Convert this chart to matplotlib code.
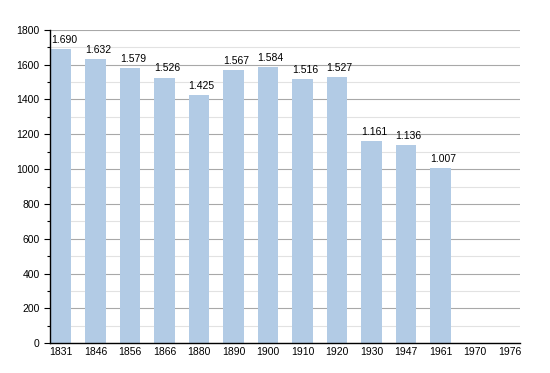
import matplotlib.pyplot as plt
import numpy as np

plt.rcParams["font.family"] = ["Liberation Sans", "DejaVu Sans"]

years = ["1831", "1846", "1856", "1866", "1880", "1890", "1900", "1910",
         "1920", "1930", "1947", "1961", "1970", "1976"]
population = [1690, 1632, 1579, 1526, 1425, 1567, 1584, 1516, 1527,
              1161, 1136, 1007, None, None]
labels = ["1.690", "1.632", "1.579", "1.526", "1.425", "1.567", "1.584",
          "1.516", "1.527", "1.161", "1.136", "1.007", "", ""]

fig = plt.figure(figsize=(5.5, 3.73), dpi=100)
ax = fig.add_axes([0.091, 0.080, 0.854, 0.840])

x = np.arange(len(years))
vals = [v if v is not None else 0 for v in population]
width = 0.6
ax.bar(x, vals, width=width, color="#b2cbe5", zorder=2)

for xi, v, lab in zip(x, vals, labels):
    if lab:
        ax.text(xi - width / 2, v + 25, lab, ha="left", va="bottom",
                fontsize=7.5, color="black", zorder=3)

ax.set_xlim(-0.32, 13.3)
ax.set_ylim(0, 1800)
ax.set_yticks(np.arange(0, 1801, 200))
ax.set_yticks(np.arange(100, 1800, 200), minor=True)
ax.set_xticks(x)
ax.set_xticklabels(years, fontsize=7.5)
ax.tick_params(axis="y", labelsize=7.5, length=4, width=0.8)
ax.tick_params(axis="y", which="minor", length=2, width=0.8)
ax.tick_params(axis="x", length=0, pad=3)

ax.grid(axis="y", which="major", color="#a8a8a8", linewidth=0.8, zorder=0)
ax.grid(axis="y", which="minor", color="#e2e2e2", linewidth=0.8, zorder=0)
ax.set_axisbelow(True)

ax.spines["top"].set_visible(False)
ax.spines["right"].set_visible(False)
ax.spines["left"].set_linewidth(1)
ax.spines["bottom"].set_linewidth(1)

fig.savefig("out.png", dpi=100)
